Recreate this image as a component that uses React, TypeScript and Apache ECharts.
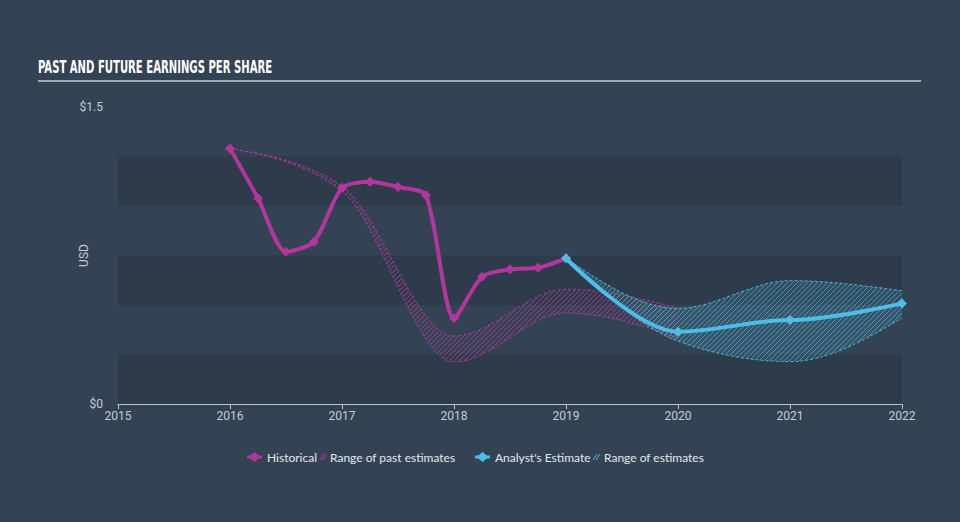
import React, { useEffect, useRef } from 'react';
import * as echarts from 'echarts';

const yearTicks = [2015, 2016, 2017, 2018, 2019, 2020, 2021, 2022];
const histX = [2016, 2016.25, 2016.5, 2016.75, 2017, 2017.25, 2017.5, 2017.75, 2018, 2018.25, 2018.5, 2018.75, 2019];
const histY = [1.291, 1.039, 0.769, 0.82, 1.091, 1.122, 1.096, 1.054, 0.433, 0.643, 0.68, 0.688, 0.736];
const estX = [2019, 2020, 2021, 2022];
const estY = [0.736, 0.365, 0.424, 0.508];
const estLow = [0.736, 0.318, 0.214, 0.434];
const estHigh = [0.736, 0.483, 0.623, 0.572];
const pastX = [2016, 2017, 2018, 2019, 2020];
const pastLow = [1.291, 1.075, 0.212, 0.46, 0.335];
const pastHigh = [1.291, 1.1, 0.343, 0.58, 0.485];
const yLabels: Record<string, string> = { '0': '$0', '1.5': '$1.5' };

const MAGENTA = '#b3369c';
const BLUE = '#4fbee6';
const BG = '#344353';
const STRIPE = '#2e3b4a';

function hatch(line: string, bg: string): HTMLCanvasElement {
  const c = document.createElement('canvas');
  c.width = 5;
  c.height = 5;
  const ctx = c.getContext('2d')!;
  ctx.fillStyle = bg;
  ctx.fillRect(0, 0, 5, 5);
  ctx.strokeStyle = line;
  ctx.lineWidth = 1;
  ctx.beginPath();
  ctx.moveTo(0, 5);
  ctx.lineTo(5, 0);
  ctx.moveTo(-2.5, 2.5);
  ctx.lineTo(2.5, -2.5);
  ctx.moveTo(2.5, 7.5);
  ctx.lineTo(7.5, 2.5);
  ctx.stroke();
  return c;
}

type Seg = number[]; // x0,y0,c1x,c1y,c2x,c2y,x1,y1

// monotone-x cubic segments through pixel points
function monoSegs(p: number[][]): Seg[] {
  const n = p.length;
  if (n < 2) return [];
  const sgn = (v: number) => (v < 0 ? -1 : 1);
  const t: number[] = new Array(n).fill(0);
  for (let i = 1; i < n - 1; i++) {
    const h0 = p[i][0] - p[i - 1][0];
    const h1 = p[i + 1][0] - p[i][0];
    const s0 = (p[i][1] - p[i - 1][1]) / h0;
    const s1 = (p[i + 1][1] - p[i][1]) / h1;
    const q = (s0 * h1 + s1 * h0) / (h0 + h1);
    t[i] = (sgn(s0) + sgn(s1)) * Math.min(Math.abs(s0), Math.abs(s1), 0.5 * Math.abs(q)) || 0;
  }
  if (n === 2) {
    const s = (p[1][1] - p[0][1]) / (p[1][0] - p[0][0]);
    t[0] = s;
    t[1] = s;
  } else {
    const h = p[1][0] - p[0][0];
    t[0] = (3 * (p[1][1] - p[0][1]) / h - t[1]) / 2;
    const hl = p[n - 1][0] - p[n - 2][0];
    t[n - 1] = (3 * (p[n - 1][1] - p[n - 2][1]) / hl - t[n - 2]) / 2;
  }
  const segs: Seg[] = [];
  for (let i = 0; i < n - 1; i++) {
    const [x0, y0] = p[i];
    const [x1, y1] = p[i + 1];
    const dx = (x1 - x0) / 3;
    segs.push([x0, y0, x0 + dx, y0 + dx * t[i], x1 - dx, y1 - dx * t[i + 1], x1, y1]);
  }
  return segs;
}

function segsPath(segs: Seg[], move: boolean): string {
  let d = move ? `M${segs[0][0]},${segs[0][1]}` : `L${segs[0][0]},${segs[0][1]}`;
  for (const s of segs) d += `C${s[2]},${s[3]},${s[4]},${s[5]},${s[6]},${s[7]}`;
  return d;
}

function reverseSegs(segs: Seg[]): Seg[] {
  return segs
    .slice()
    .reverse()
    .map((s) => [s[6], s[7], s[4], s[5], s[2], s[3], s[0], s[1]]);
}

function bandSeries(xs: number[], lo: number[], hi: number[], color: string, fill: any, z: number) {
  return {
    type: 'custom',
    data: [0],
    z,
    silent: true,
    renderItem: (_p: any, api: any) => {
      const up = monoSegs(xs.map((x, i) => api.coord([x, hi[i]])));
      const dn = monoSegs(xs.map((x, i) => api.coord([x, lo[i]])));
      const area = segsPath(up, true) + segsPath(reverseSegs(dn), false) + 'Z';
      const edge = { stroke: color, lineWidth: 1, lineDash: [3, 2], fill: 'none', opacity: 0.9 };
      return {
        type: 'group',
        children: [
          { type: 'path', shape: { pathData: area }, style: { fill, stroke: 'none' } },
          { type: 'path', shape: { pathData: segsPath(up, true) }, style: edge },
          { type: 'path', shape: { pathData: segsPath(dn, true) }, style: edge },
        ],
      };
    },
  };
}

export default function App() {
  const ref = useRef<HTMLDivElement>(null);
  useEffect(() => {
    if (!ref.current) return;
    const chart = echarts.init(ref.current, null, { renderer: 'svg' });
    const pastHatch = hatch('rgba(190,58,165,0.75)', 'rgba(0,0,0,0)');
    const estHatch = hatch('rgba(79,190,230,0.6)', 'rgba(79,190,230,0.15)');
    const pair = (xs: number[], ys: number[]) => xs.map((x, i) => [x, ys[i]]);

    const legendY = 457;
    const diamond = (cx: number, cy: number, color: string) => ({
      type: 'polygon',
      shape: { points: [[cx - 6, cy], [cx, cy - 5], [cx + 6, cy], [cx, cy + 5]] },
      style: { fill: color },
    });
    const hatchIcon = (x: number, color: string) => ({
      type: 'group',
      children: [0, 3].map((d) => ({
        type: 'line',
        shape: { x1: x + d, y1: legendY + 3, x2: x + d + 4, y2: legendY - 3 },
        style: { stroke: color, lineWidth: 1 },
      })),
    });
    const legText = (x: number, t: string) => ({
      type: 'text',
      x,
      y: legendY,
      style: { text: t, fill: '#e3e8ec', font: '12px Lato, sans-serif', textVerticalAlign: 'middle' },
    });

    chart.setOption({
      animation: false,
      backgroundColor: BG,
      grid: { left: 118, right: 58, top: 107, bottom: 118 },
      xAxis: {
        type: 'value',
        min: 2015,
        max: 2022,
        interval: 1,
        axisLine: { lineStyle: { color: '#b4c2cf', width: 1 } },
        axisTick: { show: true, length: 5, lineStyle: { color: '#b4c2cf' } },
        axisLabel: {
          color: '#c3cbd3',
          fontSize: 12,
          fontFamily: 'Roboto, sans-serif',
          margin: 6,
          formatter: (v: number) => (yearTicks.includes(v) ? String(v) : ''),
        },
        splitLine: { show: false },
      },
      yAxis: {
        type: 'value',
        min: 0,
        max: 1.5,
        interval: 0.25,
        name: 'USD',
        nameLocation: 'middle',
        nameRotate: 90,
        nameGap: 28,
        nameMoveOverlap: false,
        nameTextStyle: { color: '#c3cbd3', fontSize: 12, fontFamily: 'Roboto, sans-serif' },
        axisLine: { show: false },
        axisTick: { show: false },
        axisLabel: {
          color: '#c3cbd3',
          fontSize: 12,
          fontFamily: 'Roboto, sans-serif',
          margin: 15,
          formatter: (v: number) => yLabels[String(v)] ?? '',
        },
        splitLine: { show: false },
        splitArea: { show: true, areaStyle: { color: [STRIPE, 'rgba(0,0,0,0)'] } },
      },
      graphic: [
        {
          type: 'text',
          x: 38,
          y: 59,
          scaleX: 0.66,
          style: {
            text: 'PAST AND FUTURE EARNINGS PER SHARE',
            fill: '#ffffff',
            font: 'bold 17px "Liberation Sans Narrow", "DejaVu Sans Condensed", sans-serif',
          },
        },
        {
          type: 'line',
          shape: { x1: 38, y1: 81, x2: 921, y2: 81 },
          style: { stroke: '#a3abb4', lineWidth: 2 },
        },
        { type: 'line', shape: { x1: 247, y1: legendY, x2: 262, y2: legendY }, style: { stroke: MAGENTA, lineWidth: 3 } },
        diamond(254.5, legendY, MAGENTA),
        legText(267, 'Historical'),
        hatchIcon(320, MAGENTA),
        legText(330, 'Range of past estimates'),
        { type: 'line', shape: { x1: 475, y1: legendY, x2: 490, y2: legendY }, style: { stroke: BLUE, lineWidth: 3 } },
        diamond(482.5, legendY, BLUE),
        legText(495, "Analyst's Estimate"),
        hatchIcon(593, BLUE),
        legText(604, 'Range of estimates'),
      ],
      series: [
        bandSeries(pastX, pastLow, pastHigh, MAGENTA, { image: pastHatch, repeat: 'repeat', imageWidth: 5, imageHeight: 5 }, 1),
        bandSeries(estX, estLow, estHigh, BLUE, { image: estHatch, repeat: 'repeat', imageWidth: 5, imageHeight: 5 }, 2),
        {
          type: 'line',
          data: pair(histX, histY),
          smooth: 0.25,
          symbol: 'diamond',
          symbolSize: 10,
          itemStyle: { color: MAGENTA },
          lineStyle: { color: MAGENTA, width: 4 },
          z: 5,
        },
        {
          type: 'line',
          data: pair(estX, estY),
          smooth: 0.35,
          smoothMonotone: 'x',
          symbol: 'diamond',
          symbolSize: 10,
          itemStyle: { color: BLUE },
          lineStyle: { color: BLUE, width: 4 },
          z: 6,
        },
      ],
    });
    return () => chart.dispose();
  }, []);
  return (
    <div
      ref={ref}
      style={{ position: 'fixed', left: 0, top: 0, width: 960, height: 522, background: BG }}
    />
  );
}
